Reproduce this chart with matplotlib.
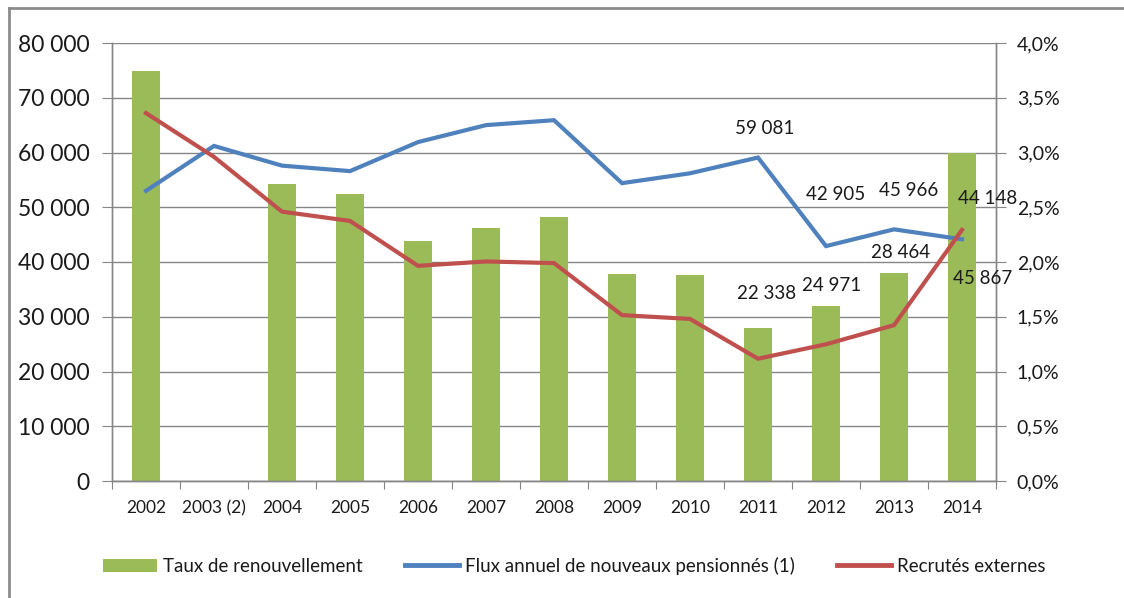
# Recreate combined bar / line chart (taux de renouvellement, flux, recrutés).

import matplotlib
matplotlib.use('Agg')
import matplotlib.pyplot as plt
from matplotlib.lines import Line2D
from matplotlib.patches import Patch
from matplotlib.ticker import FuncFormatter, MultipleLocator, FixedLocator

plt.rcParams['font.family'] = ['Lato', 'DejaVu Sans']

years = ['2002', '2003 (2)', '2004', '2005', '2006', '2007', '2008',
         '2009', '2010', '2011', '2012', '2013', '2014']
tauxRenouvellement = [3.74, None, 2.71, 2.62, 2.19, 2.31, 2.41,
                      1.89, 1.88, 1.40, 1.60, 1.90, 3.00]
fluxPensionnes = [53000, 61200, 57600, 56600, 61900, 65000, 65900,
                  54400, 56200, 59081, 42905, 45966, 44148]
recrutesExternes = [67200, 59200, 49200, 47500, 39300, 40100, 39800,
                    30300, 29600, 22338, 24971, 28464, 45867]

# data labels shown for the last four years only
labelYears = [9, 10, 11, 12]
fluxOffsets = [(7, 29), (10, 52), (15, 39), (26, 41)]
recrOffsets = [(9, 65), (6, 59), (7, 73), (21, -49)]

green = '#9BBB59'
blue = '#4F81BD'
red = '#C0504D'
gray = '#868686'
txt = '#1a1a1a'


def spaceThousands(v, pos=None):
    return '{:,.0f}'.format(v).replace(',', ' ')


def pctComma(v, pos=None):
    return '{:.1f}%'.format(v).replace('.', ',')


fig = plt.figure(figsize=(11.24, 5.98), dpi=100)
ax = fig.add_axes([112 / 1124, 1 - 481 / 598, 884 / 1124, 438 / 598])
ax2 = ax.twinx()

x = list(range(len(years)))

# bars on right axis, behind lines
bx = [i for i in x if tauxRenouvellement[i] is not None]
bh = [tauxRenouvellement[i] for i in bx]
ax2.bar(bx, bh, width=0.4, color=green, zorder=2)
ax2.set_ylim(0, 4.0)
ax2.yaxis.set_major_locator(MultipleLocator(0.5))
ax2.yaxis.set_major_formatter(FuncFormatter(pctComma))
ax2.grid(axis='y', color=gray, linewidth=1.0, zorder=0)
ax2.set_axisbelow(True)

ax.plot(x, fluxPensionnes, color=blue, linewidth=3, solid_joinstyle='miter', zorder=3)
ax.plot(x, recrutesExternes, color=red, linewidth=3, solid_joinstyle='miter', zorder=3)
ax.set_ylim(0, 80000)
ax.yaxis.set_major_locator(MultipleLocator(10000))
ax.yaxis.set_major_formatter(FuncFormatter(spaceThousands))
ax.set_zorder(ax2.get_zorder() + 1)
ax.patch.set_visible(False)

ax.set_xlim(-0.5, len(years) - 0.5)
ax.xaxis.set_major_locator(FixedLocator([i - 0.5 for i in range(len(years) + 1)]))
ax.xaxis.set_minor_locator(FixedLocator(x))
ax.set_xticklabels([], minor=False)
ax.set_xticklabels(years, minor=True)
ax.tick_params(axis='x', which='major', length=6, color=gray, direction='out')
ax.tick_params(axis='x', which='minor', length=0, pad=14, labelsize=12.5, labelcolor=txt)
ax.tick_params(axis='y', length=7, color=gray, direction='out', pad=9,
               labelsize=16.5, labelcolor=txt)
ax2.tick_params(axis='y', length=7, color=gray, direction='out', pad=8,
                labelsize=14, labelcolor=txt)

for a in (ax, ax2):
    a.spines['top'].set_visible(False)
    for side in ('left', 'right', 'bottom'):
        a.spines[side].set_color(gray)
        a.spines[side].set_linewidth(1.0)

for k, i in enumerate(labelYears):
    ax.annotate(spaceThousands(fluxPensionnes[i]), (i, fluxPensionnes[i]),
                xytext=fluxOffsets[k], textcoords='offset pixels',
                ha='center', va='center', fontsize=13.5, color=txt, zorder=5)
    ax.annotate(spaceThousands(recrutesExternes[i]), (i, recrutesExternes[i]),
                xytext=recrOffsets[k], textcoords='offset pixels',
                ha='center', va='center', fontsize=13.5, color=txt, zorder=5)

handles = [Patch(facecolor=green, edgecolor='none'),
           Line2D([0], [0], color=blue, linewidth=3.5),
           Line2D([0], [0], color=red, linewidth=3.5)]
labels = ['Taux de renouvellement', 'Flux annuel de nouveaux pensionnés (1)',
          'Recrutés externes']
fig.legend(handles, labels, loc='center', ncol=3, frameon=False,
           bbox_to_anchor=(574 / 1124, 1 - 566 / 598), fontsize=13.5,
           handlelength=2.9, handleheight=0.7, columnspacing=2.25,
           handletextpad=0.3, labelcolor=txt)

# outer chart frame
fig.add_artist(Line2D([9 / 1124, 9 / 1124], [0, 1 - 8 / 598],
                      transform=fig.transFigure, color='#8c8c8c', linewidth=2))
fig.add_artist(Line2D([9 / 1124, 1], [1 - 8 / 598, 1 - 8 / 598],
                      transform=fig.transFigure, color='#8c8c8c', linewidth=2))

fig.savefig('out.png', dpi=100)
